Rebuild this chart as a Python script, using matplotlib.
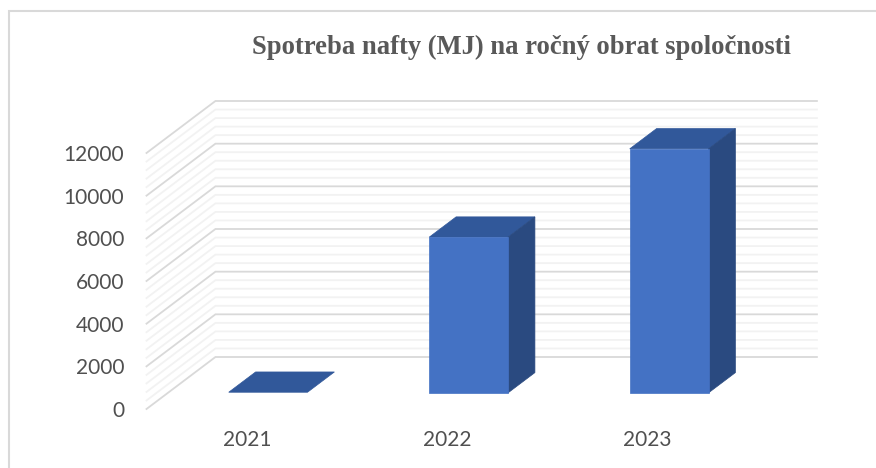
import matplotlib
matplotlib.use("Agg")
import matplotlib.pyplot as plt
from matplotlib.lines import Line2D

W, H = 876, 468

years = ["2021", "2022", "2023"]
values = [30, 7300, 11440]
major_ticks = [0, 2000, 4000, 6000, 8000, 10000, 12000]
minor_step = 400
title = "Spotreba nafty (MJ) na ročný obrat spoločnosti"

FRONT = "#4472C4"
TOP = "#31589A"
SIDE = "#2A4A80"

# 3d look: walls are pushed back by this much (x in categories, y in value units)
DEPTH_X = 69 / 200.67
DEPTH_Y = 12000 * 52 / 256
BAR_WIDTH = 0.393
BAR_NEAR = 0.31
BAR_FAR = 0.70


def box(ax, x, value, near, far):
    left, right = x - BAR_WIDTH / 2, x + BAR_WIDTH / 2

    def pt(px, py, d):
        return (px + d * DEPTH_X, py + d * DEPTH_Y)

    ax.fill(*zip(pt(left, value, near), pt(right, value, near), pt(right, value, far), pt(left, value, far)),
            color=TOP, ec=TOP, lw=0.5, clip_on=False, zorder=3)
    if value > 100:
        ax.fill(*zip(pt(right, 0, near), pt(right, 0, far), pt(right, value, far), pt(right, value, near)),
                color=SIDE, ec=SIDE, lw=0.5, clip_on=False, zorder=3)
        ax.fill(*zip(pt(left, 0, near), pt(right, 0, near), pt(right, value, near), pt(left, value, near)),
                color=FRONT, ec=FRONT, lw=0.5, clip_on=False, zorder=4)


fig = plt.figure(figsize=(W / 100, H / 100), dpi=100)

# picture frame, only top and left are visible in the crop
fig.add_artist(Line2D([9 / W, 9 / W, 1], [0, 1 - 10.5 / H, 1 - 10.5 / H], color="#D9D9D9", lw=1.5,
                      solid_joinstyle="miter"))

# axes is the front plane of the 3d box
ax = fig.add_axes([146.5 / W, 1 - 409 / H, 601.5 / W, 256 / H])
ax.patch.set_alpha(0)
ax.set_xlim(-0.5, 2.5)
ax.set_ylim(0, 12000)
for s in ax.spines.values():
    s.set_visible(False)

x0, x1 = ax.get_xlim()
grid_levels = range(0, 12000 + minor_step, minor_step)
for level in grid_levels:
    major = level in major_ticks
    color = "#D9D9D9" if major else "#F2F2F2"
    ax.plot([x0, x0 + DEPTH_X, x1 + DEPTH_X], [level, level + DEPTH_Y, level + DEPTH_Y],
            color=color, lw=1.3, clip_on=False, zorder=2 if major else 1, solid_joinstyle="miter")

for i, v in enumerate(values):
    box(ax, i, v, BAR_NEAR, BAR_FAR)

ax.set_xticks(range(len(years)), years)
ax.set_yticks(major_ticks, [str(t) for t in major_ticks])
ax.tick_params(axis="both", length=0, labelsize=15, labelcolor="#505050")
ax.tick_params(axis="x", pad=15)
ax.tick_params(axis="y", pad=16)
for lab in ax.get_xticklabels() + ax.get_yticklabels():
    lab.set_fontfamily("Lato")

fig.text(521.5 / W, 1 - 47.5 / H, title, family="Liberation Serif", weight="bold", fontsize=19.2,
         color="#595959", ha="center", va="center")

fig.savefig("out.png", dpi=100)
